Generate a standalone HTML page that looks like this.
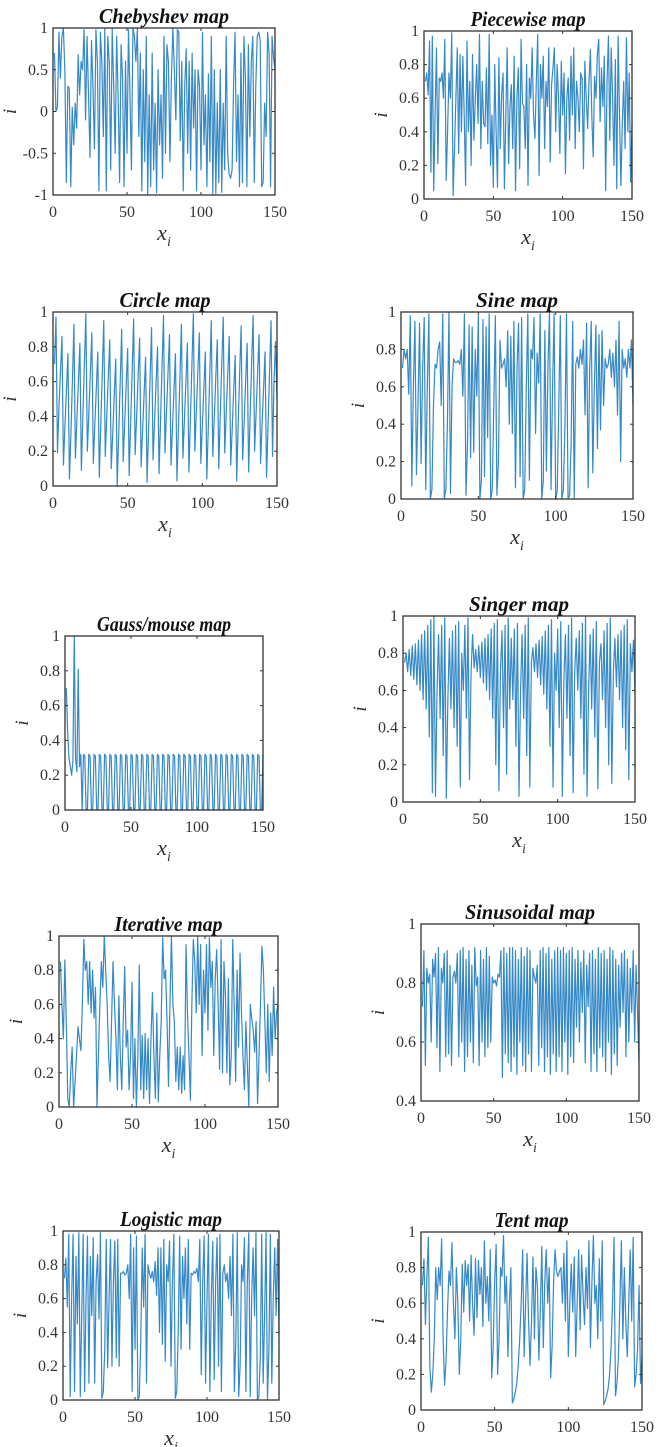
<!DOCTYPE html>
<html><head><meta charset="utf-8"><style>
html,body{margin:0;padding:0;background:#fff;}
svg{display:block;}
text{font-family:"Liberation Serif",serif;}
</style></head><body>
<svg id="fig" width="666" height="1447" viewBox="0 0 666 1447" xmlns="http://www.w3.org/2000/svg"></svg>
<script>
const xTicks = [0,50,100,150];
const chebyshevValues = [
0.7,0.0,0.05,0.95,0.4,0.9,1.0,0.5,-0.85,0.3,
0.28,-0.9,0.05,-0.4,0.1,-0.2,0.68,0.2,0.6,0.5,
0.98,-0.1,0.9,0.2,-0.55,0.85,0.3,-0.45,0.98,0.6,
-0.95,0.95,0.6,-0.3,1.0,-0.95,0.9,0.6,-0.7,1.0,
0.3,-0.5,0.9,0.2,-0.85,0.8,0.4,-0.9,0.6,-0.5,
0.98,0.2,-0.7,1.0,0.9,0.6,1.0,-0.3,0.7,-0.95,
0.5,-0.6,0.9,-1.0,0.2,-0.9,0.7,-0.7,0.1,-0.97,
0.5,-0.4,0.2,-0.8,0.9,-0.5,0.8,0.6,-0.6,0.4,
1.0,0.5,-0.1,0.98,0.95,-0.35,0.6,-0.95,0.3,0.75,
-0.5,0.6,-0.7,0.7,-0.2,0.5,-0.95,0.5,0.3,-0.7,
0.95,-0.4,0.2,-0.9,0.45,-0.6,0.9,-1.0,0.5,-0.98,
0.1,-0.85,0.5,-0.97,0.1,-0.7,0.9,-0.5,-0.75,-0.8,
-0.7,0.3,0.95,-0.6,0.2,-0.9,0.7,-0.85,0.9,0.4,
-0.9,0.8,-0.3,0.6,0.9,-0.85,0.3,0.9,0.95,0.85,
-0.9,-0.85,0.1,-0.3,0.95,0.7,-0.9,0.9,0.65,0.5];
const piecewiseValues = [
0.7,0.75,0.62,0.94,0.16,0.97,0.05,0.5,0.9,0.21,
0.72,0.7,0.75,0.6,0.95,0.11,0.4,0.75,0.6,0.99,
0.02,0.3,0.6,0.9,0.27,0.86,0.4,0.85,0.5,0.08,
0.94,0.4,0.7,0.2,0.86,0.35,0.6,0.8,0.45,0.98,
0.3,0.7,0.45,0.43,0.78,0.33,0.98,0.2,0.5,0.07,
0.8,0.4,0.07,0.84,0.3,0.62,0.75,0.06,0.5,0.9,
0.21,0.55,0.68,0.3,0.85,0.05,0.6,0.78,0.18,0.95,
0.57,0.55,0.3,0.8,0.08,0.72,0.6,0.9,0.5,0.36,
0.7,0.98,0.14,0.8,0.6,0.85,0.3,0.7,0.55,0.9,
0.22,0.68,0.78,0.9,0.4,0.8,0.6,0.27,0.82,0.5,
0.75,0.15,0.6,0.72,0.35,0.85,0.5,0.9,0.3,0.7,
0.6,0.4,0.75,0.72,0.18,0.82,0.6,0.42,0.7,0.89,
0.5,0.25,0.73,0.6,0.86,0.95,0.46,0.78,0.55,0.85,
0.05,0.7,0.97,0.35,0.9,0.61,0.2,0.83,0.06,0.97,
0.5,0.08,0.45,0.7,0.3,0.96,0.4,0.75,0.1,0.45];
const circleValues = [
0.7,0.97,0.19,0.45,0.66,0.86,0.12,0.35,0.55,0.76,
0.04,0.3,0.6,0.93,0.16,0.38,0.6,0.82,0.09,0.4,
0.7,0.99,0.2,0.42,0.65,0.88,0.13,0.35,0.56,0.77,
0.05,0.35,0.65,0.95,0.17,0.4,0.62,0.84,0.1,0.3,
0.52,0.73,0.0,0.3,0.6,0.9,0.14,0.36,0.58,0.79,
0.06,0.36,0.66,0.96,0.18,0.4,0.63,0.85,0.11,0.32,
0.53,0.74,0.02,0.32,0.62,0.91,0.15,0.37,0.59,0.8,
0.07,0.37,0.68,0.98,0.19,0.42,0.65,0.87,0.12,0.33,
0.55,0.76,0.03,0.33,0.63,0.93,0.16,0.38,0.6,0.82,
0.08,0.38,0.69,0.99,0.2,0.43,0.66,0.88,0.13,0.34,
0.56,0.77,0.04,0.34,0.65,0.95,0.17,0.39,0.62,0.84,
0.1,0.4,0.7,0.97,0.19,0.42,0.64,0.86,0.12,0.33,
0.55,0.75,0.03,0.35,0.65,0.92,0.15,0.37,0.6,0.82,
0.08,0.4,0.7,0.98,0.2,0.42,0.65,0.87,0.13,0.35,
0.56,0.77,0.05,0.35,0.65,0.95,0.17,0.6,0.83,0.5];
const sineValues = [
0.7,0.8,0.75,0.8,0.56,0.98,0.07,0.6,0.95,0.13,
0.5,0.94,0.19,0.7,0.97,0.05,0.6,0.99,0.0,0.05,
0.5,0.72,0.7,0.8,0.84,0.5,0.99,0.0,0.05,0.4,
1.0,0.03,0.6,0.75,0.73,0.73,0.74,0.72,0.8,0.55,
0.99,0.02,0.3,0.93,0.22,0.92,0.25,0.8,0.55,0.98,
0.0,0.1,0.96,0.12,0.92,0.33,0.99,0.0,0.05,0.5,
0.98,0.02,0.2,0.85,0.7,0.72,0.75,0.6,0.9,0.4,
0.87,0.35,0.95,0.06,0.7,0.94,0.12,0.97,0.0,0.05,
0.6,0.99,0.1,0.8,0.75,0.97,0.35,0.78,0.62,0.99,
0.0,0.1,0.9,0.15,0.7,1.0,0.05,0.6,0.99,0.0,
0.04,0.5,0.98,0.0,0.05,0.4,0.99,0.0,0.02,0.3,
0.95,0.0,0.72,0.76,0.7,0.8,0.72,0.85,0.45,0.94,
0.06,0.7,0.95,0.14,0.6,0.93,0.27,0.88,0.37,0.9,
0.5,0.75,0.7,0.72,0.8,0.65,0.78,0.6,0.85,0.45,
0.95,0.2,0.8,0.7,0.75,0.65,0.8,0.7,0.85,0.5];
const gaussValues = [
0.7,0.45,0.3,0.25,0.2,0.28,1.0,0.3,0.22,0.81,
0.25,0.32,0.0,0.32,0.31,0.0,0.0,0.32,0.31,0.0,
0.0,0.32,0.31,0.0,0.0,0.32,0.31,0.0,0.0,0.32,
0.31,0.0,0.0,0.32,0.31,0.0,0.0,0.32,0.31,0.0,
0.0,0.32,0.31,0.0,0.0,0.32,0.31,0.0,0.0,0.32,
0.31,0.0,0.0,0.32,0.31,0.0,0.0,0.32,0.31,0.0,
0.0,0.32,0.31,0.0,0.0,0.32,0.31,0.0,0.0,0.32,
0.31,0.0,0.0,0.32,0.31,0.0,0.0,0.32,0.31,0.0,
0.0,0.32,0.31,0.0,0.0,0.32,0.31,0.0,0.0,0.32,
0.31,0.0,0.0,0.32,0.31,0.0,0.0,0.32,0.31,0.0,
0.0,0.32,0.31,0.0,0.0,0.32,0.31,0.0,0.0,0.32,
0.31,0.0,0.0,0.32,0.31,0.0,0.0,0.32,0.31,0.0,
0.0,0.32,0.31,0.0,0.0,0.32,0.31,0.0,0.0,0.32,
0.31,0.0,0.0,0.32,0.31,0.0,0.0,0.32,0.31,0.0,
0.0,0.32,0.31,0.0,0.0,0.32,0.31,0.0,0.0,0.32];
const singerValues = [
0.75,0.8,0.7,0.82,0.68,0.84,0.66,0.85,0.63,0.87,0.6,0.9,0.55,0.92,0.5,0.95,0.35,0.98,0.05,1.0,0.03,0.6,0.9,0.45,0.95,0.25,0.99,0.02,0.55,0.88,0.5,0.92,0.4,0.95,0.3,0.97,0.08,0.8,0.6,0.95,0.45,0.99,0.12,0.7,0.9,
0.72,0.82,0.7,0.84,0.67,0.86,0.64,0.88,0.6,0.9,0.55,0.93,0.45,0.96,0.2,0.98,0.06,0.7,0.92,0.4,0.95,0.15,0.99,0.5,0.88,0.55,0.93,0.3,0.96,0.03,0.6,0.9,0.45,0.95,0.25,0.99,0.08,
0.75,0.83,0.7,0.85,0.67,0.87,0.63,0.89,0.58,0.92,0.5,0.95,0.3,0.98,0.08,0.8,0.6,0.93,0.4,0.97,0.03,0.65,0.9,0.45,0.95,0.25,0.99,0.05,0.7,0.88,0.6,0.92,0.45,0.96,0.15,1.0,0.03,0.6,0.9,0.5,0.93,0.35,0.97,0.07,0.75,0.85,0.55,0.92,0.4,0.96,0.2,0.99,0.1,0.7,0.88,0.62,0.9,0.55,0.92,0.4,0.95,0.28,0.98,0.12,0.85,0.7,0.87,0.58];
const iterativeValues = [
0.85,0.6,0.4,0.86,0.5,0.05,0.0,0.2,0.35,0.0,
0.15,0.3,0.47,0.4,0.33,0.6,0.98,0.8,0.85,0.6,
0.85,0.55,0.8,0.52,0.7,0.0,0.3,0.6,0.85,0.7,
1.0,0.8,0.6,0.3,0.15,0.5,0.85,0.6,0.4,0.1,
0.65,0.3,0.1,0.5,0.82,0.35,0.45,0.1,0.3,0.73,
0.05,0.4,0.0,0.3,0.83,0.1,0.42,0.05,0.43,0.1,
0.4,0.02,0.4,0.67,0.3,0.05,0.55,0.03,0.3,0.5,
0.99,0.75,0.8,0.5,0.12,0.6,1.0,0.6,0.5,0.15,
0.35,0.1,0.35,0.08,0.3,0.1,0.95,0.55,0.3,0.04,
0.6,0.98,0.85,0.55,1.0,0.6,0.95,0.3,0.8,0.55,
0.95,0.45,0.99,0.7,0.85,0.3,0.75,0.92,0.6,0.22,
0.98,0.2,0.85,0.65,0.2,0.75,0.13,0.3,0.98,0.6,
0.15,0.8,0.35,0.9,0.55,0.3,0.1,0.5,0.25,0.0,
0.6,0.52,0.45,0.32,0.5,0.02,0.3,0.6,0.94,0.8,
0.5,0.2,0.6,0.15,0.55,0.3,0.7,0.4,0.55,0.6];
const sinusoidalValues = [
0.72,0.91,0.52,0.85,0.8,0.83,0.6,0.88,0.82,0.9,
0.58,0.92,0.5,0.85,0.8,0.9,0.55,0.91,0.56,0.86,
0.52,0.82,0.84,0.8,0.9,0.55,0.91,0.6,0.92,0.5,
0.88,0.55,0.91,0.6,0.86,0.53,0.92,0.79,0.82,0.52,
0.91,0.6,0.88,0.55,0.92,0.58,0.89,0.6,0.82,0.8,
0.81,0.79,0.83,0.82,0.91,0.48,0.92,0.56,0.9,0.53,
0.92,0.5,0.92,0.55,0.91,0.49,0.88,0.6,0.92,0.52,
0.89,0.5,0.92,0.56,0.91,0.5,0.85,0.82,0.8,0.86,
0.52,0.91,0.58,0.92,0.5,0.9,0.55,0.92,0.49,0.88,
0.56,0.91,0.5,0.92,0.55,0.91,0.5,0.92,0.6,0.9,
0.49,0.91,0.55,0.92,0.53,0.88,0.65,0.91,0.6,0.87,
0.7,0.91,0.53,0.86,0.72,0.9,0.5,0.91,0.56,0.88,
0.5,0.92,0.58,0.9,0.55,0.91,0.5,0.88,0.6,0.92,
0.49,0.91,0.56,0.88,0.52,0.86,0.65,0.9,0.7,0.91,
0.55,0.88,0.6,0.85,0.7,0.91,0.6,0.86,0.7,0.53];
const logisticValues = [
0.72,0.84,0.55,0.98,0.02,0.6,0.98,0.05,0.85,0.45,
0.99,0.02,0.5,0.98,0.05,0.6,0.97,0.1,0.85,0.5,
0.96,0.1,0.7,0.86,0.48,0.99,0.01,0.05,0.3,0.95,
0.19,0.6,0.95,0.2,0.7,0.94,0.25,0.95,0.2,0.75,
0.75,0.76,0.74,0.75,0.8,0.6,0.98,0.05,0.9,0.3,
0.97,0.0,0.02,0.35,0.9,0.55,0.98,0.1,0.8,0.75,
0.72,0.76,0.7,0.82,0.62,0.9,0.4,0.9,0.33,0.95,
0.23,0.8,0.7,0.94,0.2,0.7,0.98,0.01,0.05,0.4,
0.97,0.3,0.85,0.6,0.9,0.45,0.95,0.3,0.75,0.74,
0.76,0.75,0.78,0.7,0.95,0.15,0.7,0.97,0.1,0.6,
0.98,0.05,0.6,0.94,0.12,0.7,0.96,0.2,0.98,0.05,
0.75,0.8,0.7,0.75,0.6,0.85,0.5,0.98,0.05,0.35,
0.99,0.02,0.2,0.8,0.7,0.96,0.05,0.7,0.99,0.02,
0.6,0.9,0.5,0.99,0.0,0.02,0.25,0.98,0.1,0.5,
0.99,0.0,0.3,0.98,0.1,0.6,0.9,0.5,0.95,0.4];
const tentValues = [
0.7,0.85,0.48,0.75,0.97,0.25,0.1,0.2,0.4,0.8,
0.62,0.8,0.7,0.96,0.4,0.14,0.28,0.56,0.78,0.7,
0.94,0.6,0.4,0.8,0.6,0.2,0.4,0.82,0.55,0.84,
0.7,0.82,0.5,0.87,0.6,0.42,0.85,0.52,0.84,0.65,
0.8,0.47,0.95,0.6,0.75,0.5,0.9,0.18,0.36,0.72,
0.93,0.2,0.4,0.8,0.75,0.98,0.6,0.75,0.3,0.6,
0.8,0.04,0.06,0.1,0.15,0.25,0.4,0.6,0.9,0.3,
0.6,0.88,0.5,0.25,0.5,0.86,0.4,0.8,0.7,0.28,
0.56,0.92,0.35,0.72,0.9,0.6,0.8,0.18,0.36,0.72,
0.9,0.78,0.75,0.78,0.8,0.6,0.88,0.5,0.95,0.3,
0.6,0.82,0.55,0.86,0.3,0.6,0.9,0.45,0.87,0.65,
0.48,0.8,0.57,0.95,0.35,0.72,0.98,0.6,0.7,0.4,
0.85,0.5,0.95,0.03,0.05,0.08,0.12,0.2,0.35,0.6,
0.97,0.08,0.15,0.3,0.6,0.95,0.4,0.8,0.5,0.3,
0.6,0.9,0.5,0.97,0.13,0.2,0.35,0.7,0.15,0.3];

const yTicks01 = ["0","0.2","0.4","0.6","0.8","1"];
const yTicksCheb = ["-1","-0.5","0","0.5","1"];
const yTicksSinus = ["0.4","0.6","0.8","1"];

const panels = [
 {key:"chebyshev", title:"Chebyshev map", tw:130, L:53,R:275,T:28,B:195, ymin:-1,ymax:1, yt:yTicksCheb, data:chebyshevValues, xl:true},
 {key:"piecewise", title:"Piecewise map", tw:115, L:424,R:632,T:31,B:199, ymin:0,ymax:1, yt:yTicks01, data:piecewiseValues, xl:true},
 {key:"circle", title:"Circle map", tw:91, L:53,R:277,T:312,B:486, ymin:0,ymax:1, yt:yTicks01, data:circleValues, xl:true},
 {key:"sine", title:"Sine map", tw:82, L:401,R:633,T:312,B:499, ymin:0,ymax:1, yt:yTicks01, data:sineValues, xl:true},
 {key:"gauss", title:"Gauss/mouse map", tw:134, L:65,R:263,T:636,B:810, ymin:0,ymax:1, yt:yTicks01, data:gaussValues, xl:true},
 {key:"singer", title:"Singer map", tw:100, L:403,R:635,T:616,B:802, ymin:0,ymax:1, yt:yTicks01, data:singerValues, xl:true},
 {key:"iterative", title:"Iterative map", tw:108, L:59,R:278,T:936,B:1107, ymin:0,ymax:1, yt:yTicks01, data:iterativeValues, xl:true},
 {key:"sinusoidal", title:"Sinusoidal map", tw:130, L:421,R:639,T:924,B:1101, ymin:0.4,ymax:1, yt:yTicksSinus, data:sinusoidalValues, xl:true},
 {key:"logistic", title:"Logistic map", tw:102, L:63,R:279,T:1231,B:1400, ymin:0,ymax:1, yt:yTicks01, data:logisticValues, xl:true},
 {key:"tent", title:"Tent map", tw:74, L:421,R:642,T:1232,B:1410, ymin:0,ymax:1, yt:yTicks01, data:tentValues, xl:false}
];

const NS="http://www.w3.org/2000/svg";
const svg=document.getElementById('fig');
function mk(tag,parent){const e=document.createElementNS(NS,tag);parent.appendChild(e);return e;}

panels.forEach(p=>{
  const g=mk('g',svg);
  
  
  const xs=v=>p.L+(v/150)*(p.R-p.L);
  const ys=v=>p.B-(v-p.ymin)/(p.ymax-p.ymin)*(p.B-p.T);
  const path=mk('path',g);
  
  
  let d='';
  p.data.forEach((v,i)=>{d+=(i?'L':'M')+xs(i+1).toFixed(2)+' '+ys(v).toFixed(2);});
  path.setAttribute('d',d);
  path.setAttribute('fill','none');
  path.setAttribute('stroke','#3589c6');
  path.setAttribute('stroke-width','1.2');
  path.setAttribute('stroke-linejoin','round');
  const fr=mk('rect',g);
  
  
  fr.setAttribute('x',p.L);fr.setAttribute('y',p.T);
  fr.setAttribute('width',p.R-p.L);fr.setAttribute('height',p.B-p.T);
  fr.setAttribute('fill','none');fr.setAttribute('stroke','#333');fr.setAttribute('stroke-width','1.3');
  xTicks.forEach(t=>{
    const x=xs(t);
    [[p.B,p.B-3],[p.T,p.T+3]].forEach(([a,b])=>{
      const ln=mk('line',g);
      
      
      ln.setAttribute('x1',x);ln.setAttribute('x2',x);ln.setAttribute('y1',a);ln.setAttribute('y2',b);
      ln.setAttribute('stroke','#333');ln.setAttribute('stroke-width','1');
    });
    const tx=mk('text',g);
    
    
    tx.setAttribute('x',x);tx.setAttribute('y',p.B+22);
    tx.setAttribute('text-anchor','middle');tx.setAttribute('font-size','16');tx.setAttribute('fill','#333');
    tx.textContent=String(t);
  });
  p.yt.forEach(lbl=>{
    const v=parseFloat(lbl), y=ys(v);
    [[p.L,p.L+3],[p.R,p.R-3]].forEach(([a,b])=>{
      const ln=mk('line',g);
      
      
      ln.setAttribute('x1',a);ln.setAttribute('x2',b);ln.setAttribute('y1',y);ln.setAttribute('y2',y);
      ln.setAttribute('stroke','#333');ln.setAttribute('stroke-width','1');
    });
    const tx=mk('text',g);
    
    
    tx.setAttribute('x',p.L-5);tx.setAttribute('y',y+5);
    tx.setAttribute('text-anchor','end');tx.setAttribute('font-size','16');tx.setAttribute('fill','#333');
    tx.textContent=lbl;
  });
  const tt=mk('text',g);
  
  
  tt.setAttribute('x',(p.L+p.R)/2);tt.setAttribute('y',p.T-5);
  tt.setAttribute('text-anchor','middle');tt.setAttribute('font-size','21');
  tt.setAttribute('font-weight','bold');tt.setAttribute('font-style','italic');tt.setAttribute('fill','#111');
  tt.setAttribute('textLength',p.tw);tt.setAttribute('lengthAdjust','spacingAndGlyphs');
  tt.textContent=p.title;
  const yl=mk('text',g);
  
  
  const yc=(p.T+p.B)/2, xc=p.L-37;
  yl.setAttribute('x',xc);yl.setAttribute('y',yc);
  yl.setAttribute('transform','rotate(-90 '+xc+' '+yc+')');
  yl.setAttribute('text-anchor','middle');yl.setAttribute('font-size','19');
  yl.setAttribute('font-style','italic');yl.setAttribute('fill','#333');
  yl.textContent='i';
  if(p.xl){
    const xl=mk('text',g);
    
    
    xl.setAttribute('x',(p.L+p.R)/2);xl.setAttribute('y',p.B+45);
    xl.setAttribute('text-anchor','middle');xl.setAttribute('font-size','22');
    xl.setAttribute('font-style','italic');xl.setAttribute('fill','#333');
    const t1=mk('tspan',xl);t1.textContent='x';
    const t2=mk('tspan',xl);t2.setAttribute('font-size','14');t2.setAttribute('dy','6');t2.textContent='i';
  }
});
</script>
</body></html>
